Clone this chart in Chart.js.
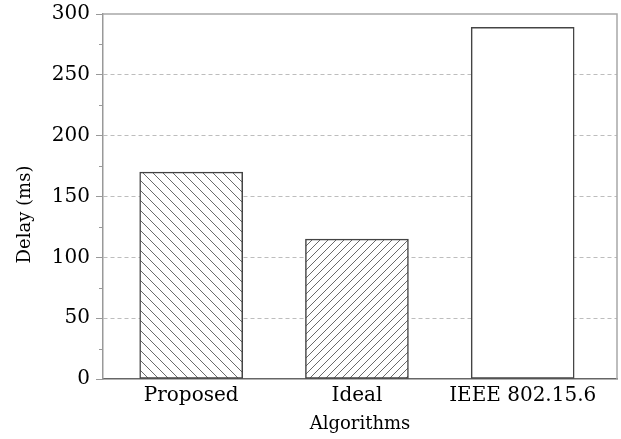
<!DOCTYPE html>
<html>
<head>
<meta charset="utf-8">
<script src="https://cdn.jsdelivr.net/npm/chart.js@4/dist/chart.umd.min.js"></script>
<style>
  html, body { margin: 0; padding: 0; background: #fff; }
  #wrap { width: 621px; height: 439px; }
</style>
</head>
<body>
<div id="wrap"><canvas id="delayChart" width="621" height="439"></canvas></div>
<script>
const categories = ["Proposed", "Ideal", "IEEE 802.15.6"];
const delays = [170, 115, 289];
const yTicks = [0, 50, 100, 150, 200, 250, 300];
const yMinorTicks = [25, 75, 125, 175, 225, 275];

const FONT = "'DejaVu Serif', 'Liberation Serif', serif";

// diagonal hatch fill for the bars
function hatch(dir, size) {
  const c = document.createElement("canvas");
  c.width = size; c.height = size;
  const g = c.getContext("2d");
  g.fillStyle = "#fff";
  g.fillRect(0, 0, size, size);
  g.strokeStyle = "#6a6a6a";
  g.lineWidth = 1;
  g.beginPath();
  if (dir === "back") {
    g.moveTo(0, 0); g.lineTo(size, size);
    g.moveTo(-1, size - 1); g.lineTo(1, size + 1);
    g.moveTo(size - 1, -1); g.lineTo(size + 1, 1);
  } else {
    g.moveTo(0, size); g.lineTo(size, 0);
    g.moveTo(-1, 1); g.lineTo(1, -1);
    g.moveTo(size - 1, size + 1); g.lineTo(size + 1, size - 1);
  }
  g.stroke();
  return g.createPattern(c, "repeat");
}

const fills = [hatch("back", 10), hatch("fwd", 8), "#fff"];

const framePlugin = {
  id: "frame",
  afterDraw(chart) {
    const { ctx, chartArea: a, scales } = chart;
    ctx.save();
    ctx.strokeStyle = "#a8a8a8";
    ctx.lineWidth = 1.5;
    ctx.beginPath();
    ctx.moveTo(a.left, a.top);
    ctx.lineTo(a.right, a.top);
    ctx.lineTo(a.right, a.bottom);
    ctx.stroke();
    // minor ticks on y axis
    ctx.strokeStyle = "#999";
    ctx.lineWidth = 1;
    ctx.beginPath();
    yMinorTicks.forEach(v => {
      const y = Math.round(scales.y.getPixelForValue(v)) + 0.5;
      ctx.moveTo(a.left - 4, y);
      ctx.lineTo(a.left, y);
    });
    ctx.stroke();
    ctx.restore();
  }
};

new Chart(document.getElementById("delayChart"), {
  type: "bar",
  data: {
    datasets: [{
      data: delays.map((v, i) => ({ x: i + 1, y: v })),
      backgroundColor: fills,
      borderColor: "#444",
      borderWidth: 1.5,
      borderSkipped: false,
      barThickness: 103
    }]
  },
  options: {
    responsive: false,
    animation: false,
    devicePixelRatio: 1,
    layout: { padding: { top: 14, right: 4, left: 0, bottom: 0 } },
    plugins: { legend: { display: false }, tooltip: { enabled: false } },
    scales: {
      x: {
        type: "linear",
        min: 0.468,
        max: 3.569,
        offset: false,
        afterBuildTicks: s => { s.ticks = categories.map((c, i) => ({ value: i + 1 })); },
        afterFit: s => { s.height = 60; s.paddingLeft = 0; s.paddingRight = 0; },
        ticks: {
          callback: v => categories[v - 1] || "",
          color: "#000",
          font: { family: FONT, size: 20 },
          padding: 5,
          maxRotation: 0
        },
        grid: { display: false, drawTicks: false },
        border: { color: "#666", width: 1.5 },
        title: {
          display: true,
          text: "Algorithms",
          color: "#000",
          font: { family: FONT, size: 18 },
          padding: { top: 0, bottom: 4 }
        }
      },
      y: {
        min: 0,
        max: 300,
        afterBuildTicks: s => { s.ticks = yTicks.map(v => ({ value: v })); },
        afterFit: s => { s.width = 103; s.paddingTop = 0; s.paddingBottom = 0; },
        ticks: {
          color: "#000",
          font: { family: FONT, size: 20 },
          padding: 6
        },
        grid: {
          color: c => (c.tick && (c.tick.value === 0 || c.tick.value === 300)) ? "rgba(0,0,0,0)" : "#bdbdbd",
          lineWidth: 1,
          borderDash: [4, 3],
          tickLength: 7,
          tickColor: "#999",
          tickBorderDash: []
        },
        border: { color: "#999", width: 1.5, dash: [4, 3] },
        title: {
          display: true,
          text: "Delay (ms)\u2003\u2003",
          color: "#000",
          font: { family: FONT, size: 18 },
          padding: { top: 15, bottom: 0 }
        }
      }
    }
  },
  plugins: [framePlugin]
});
</script>
</body>
</html>
